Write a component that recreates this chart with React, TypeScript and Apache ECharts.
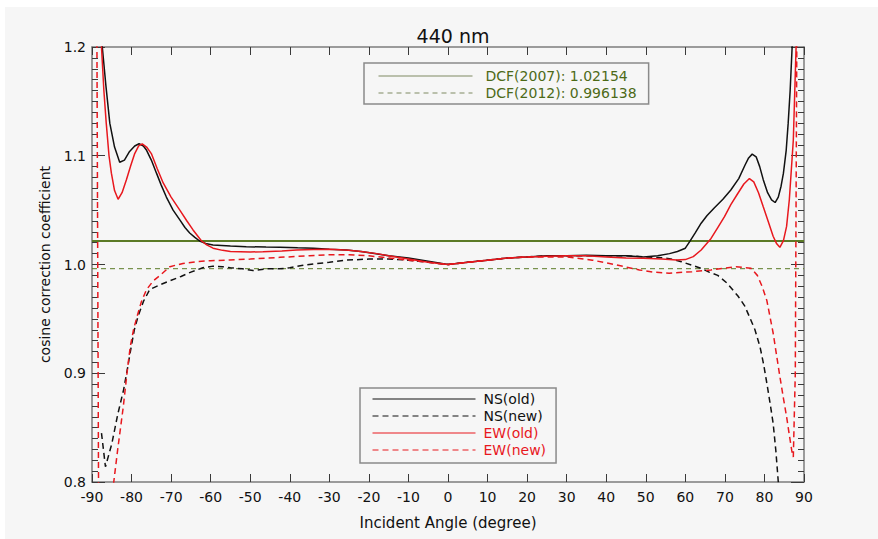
import React, { useEffect, useRef } from 'react';
import * as echarts from 'echarts';

const chartTitle = '440 nm';
const xAxisTitle = 'Incident Angle (degree)';
const yAxisTitle = 'cosine correction coefficient';

const dcf2007 = 1.02154;
const dcf2012 = 0.996138;

// [incident angle (deg), coefficient]
const nsOld: number[][] = [
  [-88.5, 1.30], [-87.4, 1.20], [-86.5, 1.165], [-85.5, 1.13], [-84.3, 1.108], [-83.0, 1.094],
  [-81.8, 1.096], [-80.5, 1.104], [-79.2, 1.109], [-78.1, 1.111], [-77.0, 1.109], [-76.2, 1.105],
  [-75.0, 1.096], [-73.7, 1.084], [-72.5, 1.073], [-71.2, 1.062], [-69.5, 1.050], [-67.8, 1.041],
  [-66.5, 1.034], [-65.3, 1.029], [-64.0, 1.025], [-62.8, 1.0216], [-61.0, 1.019], [-59.4, 1.018],
  [-55, 1.017], [-51, 1.0164], [-46, 1.016], [-42.5, 1.0158], [-38, 1.0153], [-34, 1.015],
  [-30, 1.014], [-25.7, 1.0133], [-22, 1.012], [-19, 1.0103], [-15, 1.008], [-10, 1.006],
  [-5, 1.003], [0, 1.0], [5, 1.002], [10, 1.004], [15, 1.006], [20, 1.007], [25, 1.008],
  [30, 1.008], [35, 1.0085], [40, 1.008], [45, 1.008], [49.4, 1.007], [53, 1.008], [56, 1.01],
  [58, 1.012], [60, 1.015], [61.1, 1.021], [62.5, 1.029], [64, 1.038], [65.5, 1.045],
  [67.3, 1.052], [69.5, 1.06], [71.5, 1.0685], [73.5, 1.079], [75.1, 1.0915], [76.0, 1.098],
  [76.9, 1.1015], [77.9, 1.099], [78.8, 1.09], [79.7, 1.078], [80.8, 1.066], [81.8, 1.0595],
  [82.7, 1.057], [83.5, 1.062], [84.2, 1.072], [84.8, 1.084], [85.5, 1.105], [86.0, 1.13],
  [86.5, 1.16], [87.0, 1.2], [87.6, 1.3],
];

const nsNew: number[][] = [
  [-87.6, 0.845], [-86.6, 0.814], [-85, 0.835], [-83.5, 0.862],
  [-82, 0.885], [-81, 0.905], [-80.3, 0.92], [-79.3, 0.94], [-78.3, 0.953], [-77, 0.966],
  [-75.4, 0.977], [-73, 0.981], [-70.3, 0.985], [-67.5, 0.989], [-65, 0.993], [-62, 0.997],
  [-59.4, 0.9985], [-57, 0.998], [-55, 0.997], [-52, 0.996], [-49.3, 0.9945], [-46, 0.996],
  [-42.5, 0.996], [-40, 0.997], [-37, 0.999], [-34, 1.0005], [-30, 1.002], [-25.7, 1.004],
  [-20, 1.005], [-15, 1.005], [-10, 1.004], [-5, 1.002], [0, 1.0], [5, 1.002], [10, 1.004],
  [15, 1.006], [20, 1.007], [25, 1.008], [30, 1.008], [35, 1.008], [40, 1.008], [45, 1.008],
  [50, 1.007], [55, 1.006], [57, 1.0045], [59, 1.0026], [61.5, 0.9995], [64, 0.9965],
  [66, 0.993], [68.2, 0.99], [70.5, 0.983], [73.3, 0.971], [75, 0.962], [76.2, 0.952],
  [77.6, 0.94], [78.9, 0.924], [79.8, 0.908], [80.6, 0.891], [81.4, 0.873], [82.2, 0.854],
  [82.9, 0.828], [83.5, 0.8], [84.3, 0.76],
];

const ewOld: number[][] = [
  [-88.6, 1.35], [-87.6, 1.2], [-87.0, 1.16], [-86.4, 1.13], [-85.7, 1.1], [-85.1, 1.084],
  [-84.3, 1.068], [-83.4, 1.06], [-82.4, 1.066], [-81.3, 1.078], [-80.2, 1.091], [-79.2, 1.102],
  [-78.2, 1.109], [-77.3, 1.111], [-76.2, 1.108], [-75.0, 1.102], [-73.5, 1.088], [-72.0, 1.075],
  [-70, 1.062], [-67.8, 1.05], [-66, 1.04], [-64.5, 1.032], [-62.3, 1.0216], [-61, 1.018],
  [-59.4, 1.015], [-57, 1.013], [-55, 1.012], [-50, 1.0115], [-46.8, 1.0118], [-42, 1.0125],
  [-38.3, 1.0133], [-34, 1.0138], [-30, 1.014], [-25, 1.013], [-21.5, 1.0118], [-18, 1.01],
  [-15, 1.008], [-10, 1.005], [-5, 1.002], [0, 1.0], [5, 1.002], [10, 1.004], [15, 1.006],
  [20, 1.007], [25, 1.0075], [30, 1.008], [35, 1.008], [40, 1.007], [45, 1.006], [49.4, 1.0057],
  [54, 1.005], [57.8, 1.0041], [60, 1.0045], [62, 1.0072], [64, 1.0133], [66.5, 1.024],
  [68.2, 1.034], [69.9, 1.044], [71.5, 1.055], [73.3, 1.0655], [74.8, 1.074], [76.2, 1.079],
  [77.3, 1.076], [78.5, 1.066], [79.7, 1.053], [81, 1.039], [82.2, 1.026], [83.1, 1.019],
  [83.9, 1.0158], [84.8, 1.022], [85.6, 1.035], [86.3, 1.06], [87.3, 1.1145], [88.0, 1.2],
  [88.6, 1.3],
];

const ewNew: number[][] = [
  [-90, 1.6], [-88.8, 1.25], [-88.3, 0.75], [-87.8, 0.68], [-86.5, 0.7], [-85.4, 0.76],
  [-84.5, 0.8], [-83.5, 0.83], [-82.1, 0.869], [-81, 0.905], [-80.3, 0.925], [-79.5, 0.94],
  [-78.7, 0.951], [-77.5, 0.966], [-76.2, 0.977], [-74.5, 0.985], [-72.8, 0.99], [-70.3, 0.998],
  [-67, 1.001], [-63.6, 1.0026], [-60, 1.0035], [-55.2, 1.0041], [-50, 1.005], [-42.5, 1.0066],
  [-35, 1.008], [-30, 1.009], [-25, 1.009], [-20, 1.008], [-15, 1.006], [-10, 1.004], [-5, 1.002],
  [0, 1.0], [5, 1.002], [10, 1.004], [15, 1.006], [20, 1.007], [25, 1.007], [30, 1.007],
  [36.5, 1.004], [42, 1.0], [48.4, 0.995], [52, 0.993], [55.9, 0.992], [61.7, 0.9934],
  [66.5, 0.995], [72.8, 0.998], [76.6, 0.9965], [78.2, 0.99], [79.4, 0.98], [80.6, 0.967],
  [81.4, 0.952], [82.2, 0.937], [83.0, 0.918], [83.9, 0.897], [84.8, 0.877], [85.6, 0.86],
  [86.3, 0.843], [86.9, 0.829], [87.3, 0.823], [87.8, 0.9], [88.3, 1.3],
];

const FONT = '"DejaVu Sans", "Liberation Sans", sans-serif';
const RED = '#e8181e';
const BLACK = '#111111';
const GREEN = '#5b7a26';
const GREEN_TEXT = '#4d6a18';

export default function App() {
  const ref = useRef<HTMLDivElement>(null);

  useEffect(() => {
    if (!ref.current) return;
    const chart = echarts.init(ref.current, null, { renderer: 'svg' });

    const axisLine = { show: true, onZero: false, lineStyle: { color: '#7c7c7c', width: 1.5 } };
    const tickStyle = { color: '#3a3a3a', width: 1 };

    const dcfName1 = `DCF(2007): ${dcf2007}`;
    const dcfName2 = `DCF(2012): ${dcf2012}`;

    const lineSeries = (name: string, data: number[][], color: string, dashed: boolean, width = 1.5) => ({
      name,
      type: 'line',
      data,
      symbol: 'none',
      showSymbol: false,
      clip: true,
      smooth: false,
      lineStyle: { color, width, type: dashed ? [6, 4] : 'solid' },
      itemStyle: { color },
      emphasis: { disabled: true },
    });

    chart.setOption({
      animation: false,
      backgroundColor: 'transparent',
      textStyle: { fontFamily: FONT },
      graphic: [
        {
          type: 'rect',
          silent: true,
          z: -100,
          shape: { x: 5, y: 7, width: 873, height: 532 },
          style: { fill: '#f6f6f6' },
        },
      ],
      title: {
        text: chartTitle,
        left: 448,
        textAlign: 'center',
        top: 21,
        textStyle: { fontFamily: FONT, fontSize: 19, fontWeight: 'normal', color: '#111' },
      },
      grid: { left: 92, right: 74, top: 47, bottom: 57, show: false },
      xAxis: [
        {
          type: 'value',
          min: -90,
          max: 90,
          interval: 10,
          position: 'bottom',
          axisLine,
          axisTick: { show: true, inside: true, length: 8, lineStyle: tickStyle },
          axisLabel: { margin: 8, color: '#111', fontSize: 14, fontFamily: FONT },
          splitLine: { show: false },
          name: xAxisTitle,
          nameLocation: 'middle',
          nameGap: 33,
          nameTextStyle: { fontFamily: FONT, fontSize: 15, color: '#111' },
        },
        {
          type: 'value',
          min: -90,
          max: 90,
          interval: 10,
          position: 'top',
          axisLine,
          axisTick: { show: true, inside: true, length: 8, lineStyle: tickStyle },
          axisLabel: { show: false },
          splitLine: { show: false },
        },
      ],
      yAxis: [
        {
          type: 'value',
          min: 0.8,
          max: 1.2,
          interval: 0.1,
          position: 'left',
          axisLine,
          axisTick: { show: true, inside: true, length: 13, lineStyle: tickStyle },
          minorTick: { show: true, splitNumber: 10, length: 6, lineStyle: tickStyle },
          axisLabel: {
            margin: 6,
            color: '#111',
            fontSize: 14,
            fontFamily: FONT,
            formatter: (v: number) => v.toFixed(1),
          },
          splitLine: { show: false },
          minorSplitLine: { show: false },
          name: yAxisTitle,
          nameLocation: 'middle',
          nameGap: 40,
          nameRotate: 90,
          nameTextStyle: { fontFamily: FONT, fontSize: 14, color: '#111' },
        },
        {
          type: 'value',
          min: 0.8,
          max: 1.2,
          interval: 0.1,
          position: 'right',
          axisLine,
          axisTick: { show: true, inside: true, length: 13, lineStyle: tickStyle },
          minorTick: { show: true, splitNumber: 10, length: 6, lineStyle: tickStyle },
          axisLabel: { show: false },
          splitLine: { show: false },
          minorSplitLine: { show: false },
        },
      ],
      legend: [
        {
          orient: 'vertical',
          left: 364,
          top: 63,
          itemWidth: 94,
          itemHeight: 14,
          itemGap: 3,
          padding: [6, 12, 4, 14],
          borderColor: '#8a8a8a',
          borderWidth: 1.5,
          selectedMode: false,
          itemStyle: { opacity: 0 },
          textStyle: { fontFamily: FONT, fontSize: 14, color: GREEN_TEXT, padding: [0, 0, 0, 8] },
          data: [
            { name: dcfName1, lineStyle: { width: 1, color: '#7f8a62' } },
            { name: dcfName2, lineStyle: { width: 1, color: '#7f8a62' } },
          ],
        },
        {
          orient: 'vertical',
          left: 360,
          top: 388,
          itemWidth: 103,
          itemHeight: 14,
          itemGap: 3,
          padding: [4, 10, 6, 12],
          borderColor: '#8a8a8a',
          borderWidth: 1.5,
          selectedMode: false,
          itemStyle: { opacity: 0 },
          textStyle: { fontFamily: FONT, fontSize: 14, padding: [0, 0, 0, 3] },
          data: [
            { name: 'NS(old)', textStyle: { color: BLACK }, lineStyle: { width: 1 } },
            { name: 'NS(new)', textStyle: { color: BLACK }, lineStyle: { width: 1 } },
            { name: 'EW(old)', textStyle: { color: RED }, lineStyle: { width: 1 } },
            { name: 'EW(new)', textStyle: { color: RED }, lineStyle: { width: 1 } },
          ],
        },
      ],
      series: [
        lineSeries(dcfName1, [[-90, dcf2007], [90, dcf2007]], GREEN, false, 2),
        { ...lineSeries(dcfName2, [[-90, dcf2012], [90, dcf2012]], GREEN, false, 1), lineStyle: { color: GREEN, width: 1, type: [5, 4] } },
        lineSeries('NS(old)', nsOld, BLACK, false),
        lineSeries('NS(new)', nsNew, BLACK, true),
        lineSeries('EW(old)', ewOld, RED, false),
        lineSeries('EW(new)', ewNew, RED, true),
      ],
    });

    return () => chart.dispose();
  }, []);

  return (
    <div style={{ position: 'fixed', left: 0, top: 0, width: 878, height: 539, background: '#ffffff' }}>
      <div ref={ref} style={{ width: 878, height: 539 }} />
    </div>
  );
}
